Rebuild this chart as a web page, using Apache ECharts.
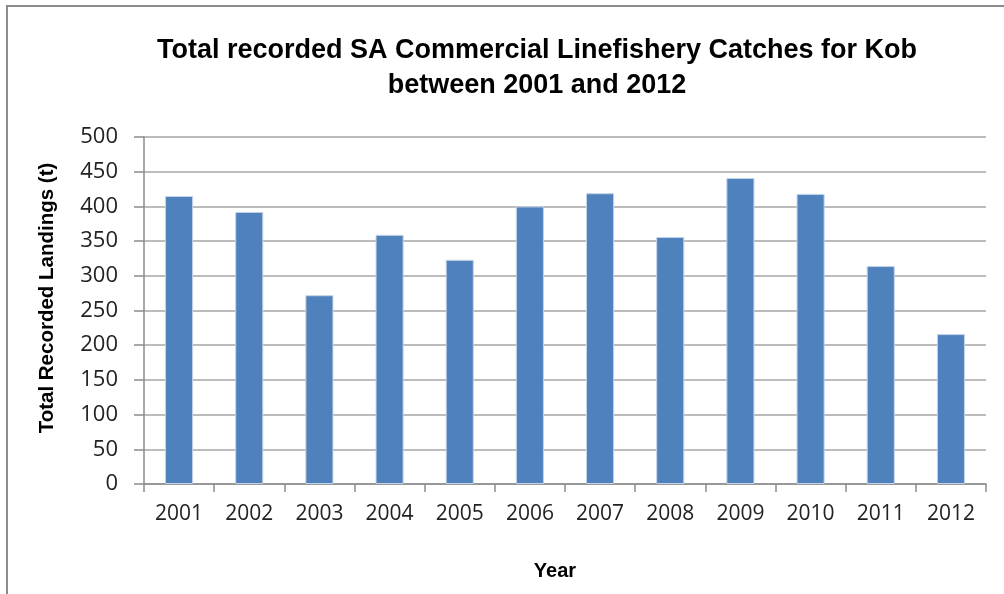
<!DOCTYPE html>
<html>
<head>
<meta charset="utf-8">
<style>
  html, body { margin: 0; padding: 0; background: #fff; }
  #chart { width: 1004px; height: 594px; }
</style>
<script src="https://cdn.jsdelivr.net/npm/echarts@6/dist/echarts.min.js"></script>
</head>
<body>
<div id="chart"></div>
<script>
// Kob landings per year (tonnes)
const years = ['2001', '2002', '2003', '2004', '2005', '2006', '2007', '2008', '2009', '2010', '2011', '2012'];
const landings = [415, 392, 272, 359, 323, 400, 419, 356, 441, 418, 314, 216];
const yTicks = [0, 50, 100, 150, 200, 250, 300, 350, 400, 450, 500];

const chart = echarts.init(document.getElementById('chart'), null, { renderer: 'canvas' });

const labelFont = '"Open Sans", sans-serif';
const headFont = '"Liberation Sans", sans-serif';

chart.setOption({
  animation: false,
  backgroundColor: '#ffffff',
  graphic: [
    {
      // outer chart frame
      type: 'rect',
      shape: { x: 7, y: 6, width: 1010, height: 600 },
      style: { fill: 'none', stroke: '#8c8c8c', lineWidth: 2 },
      silent: true
    },
    {
      // value axis title
      type: 'text',
      x: 47,
      y: 298,
      rotation: Math.PI / 2,
      style: {
        text: 'Total Recorded Landings (t)',
        fontFamily: headFont,
        fontWeight: 'bold',
        fontSize: 20.5,
        fill: '#000',
        align: 'center',
        verticalAlign: 'middle'
      },
      silent: true
    },
    {
      // category axis title
      type: 'text',
      x: 555,
      y: 571,
      style: {
        text: 'Year',
        fontFamily: headFont,
        fontWeight: 'bold',
        fontSize: 20,
        fill: '#000',
        align: 'center',
        verticalAlign: 'middle'
      },
      silent: true
    }
  ],
  title: {
    text: 'Total recorded SA Commercial Linefishery Catches for Kob\nbetween 2001 and 2012',
    left: 532,
    top: 28,
    textAlign: 'center',
    textStyle: {
      fontFamily: headFont,
      fontWeight: 'bold',
      fontSize: 27,
      lineHeight: 35,
      color: '#000'
    }
  },
  grid: { left: 144, right: 18, top: 137, bottom: 110 },
  xAxis: {
    type: 'category',
    data: years,
    axisLine: { lineStyle: { color: '#8c8c8c', width: 1.5 } },
    axisTick: { show: true, alignWithLabel: false, length: 8, lineStyle: { color: '#8c8c8c', width: 1.5 } },
    axisLabel: { fontFamily: labelFont, fontSize: 21, color: '#222', margin: 20 }
  },
  yAxis: {
    type: 'value',
    min: 0,
    max: 500,
    interval: 50,
    axisLine: { show: true, lineStyle: { color: '#8c8c8c', width: 1.5 } },
    axisTick: { show: true, length: 10, lineStyle: { color: '#8c8c8c', width: 1.5 } },
    axisLabel: {
      fontFamily: labelFont, fontSize: 22, color: '#222', margin: 26,
      formatter: v => (yTicks.indexOf(v) >= 0 ? String(v) : '')
    },
    splitLine: { show: true, lineStyle: { color: '#a6a6a6', width: 1.5 } }
  },
  series: [{
    type: 'bar',
    data: landings,
    barWidth: '40%',
    itemStyle: { color: '#4f81bd', borderColor: '#c3d3e8', borderWidth: 1 }
  }]
});
</script>
</body>
</html>
